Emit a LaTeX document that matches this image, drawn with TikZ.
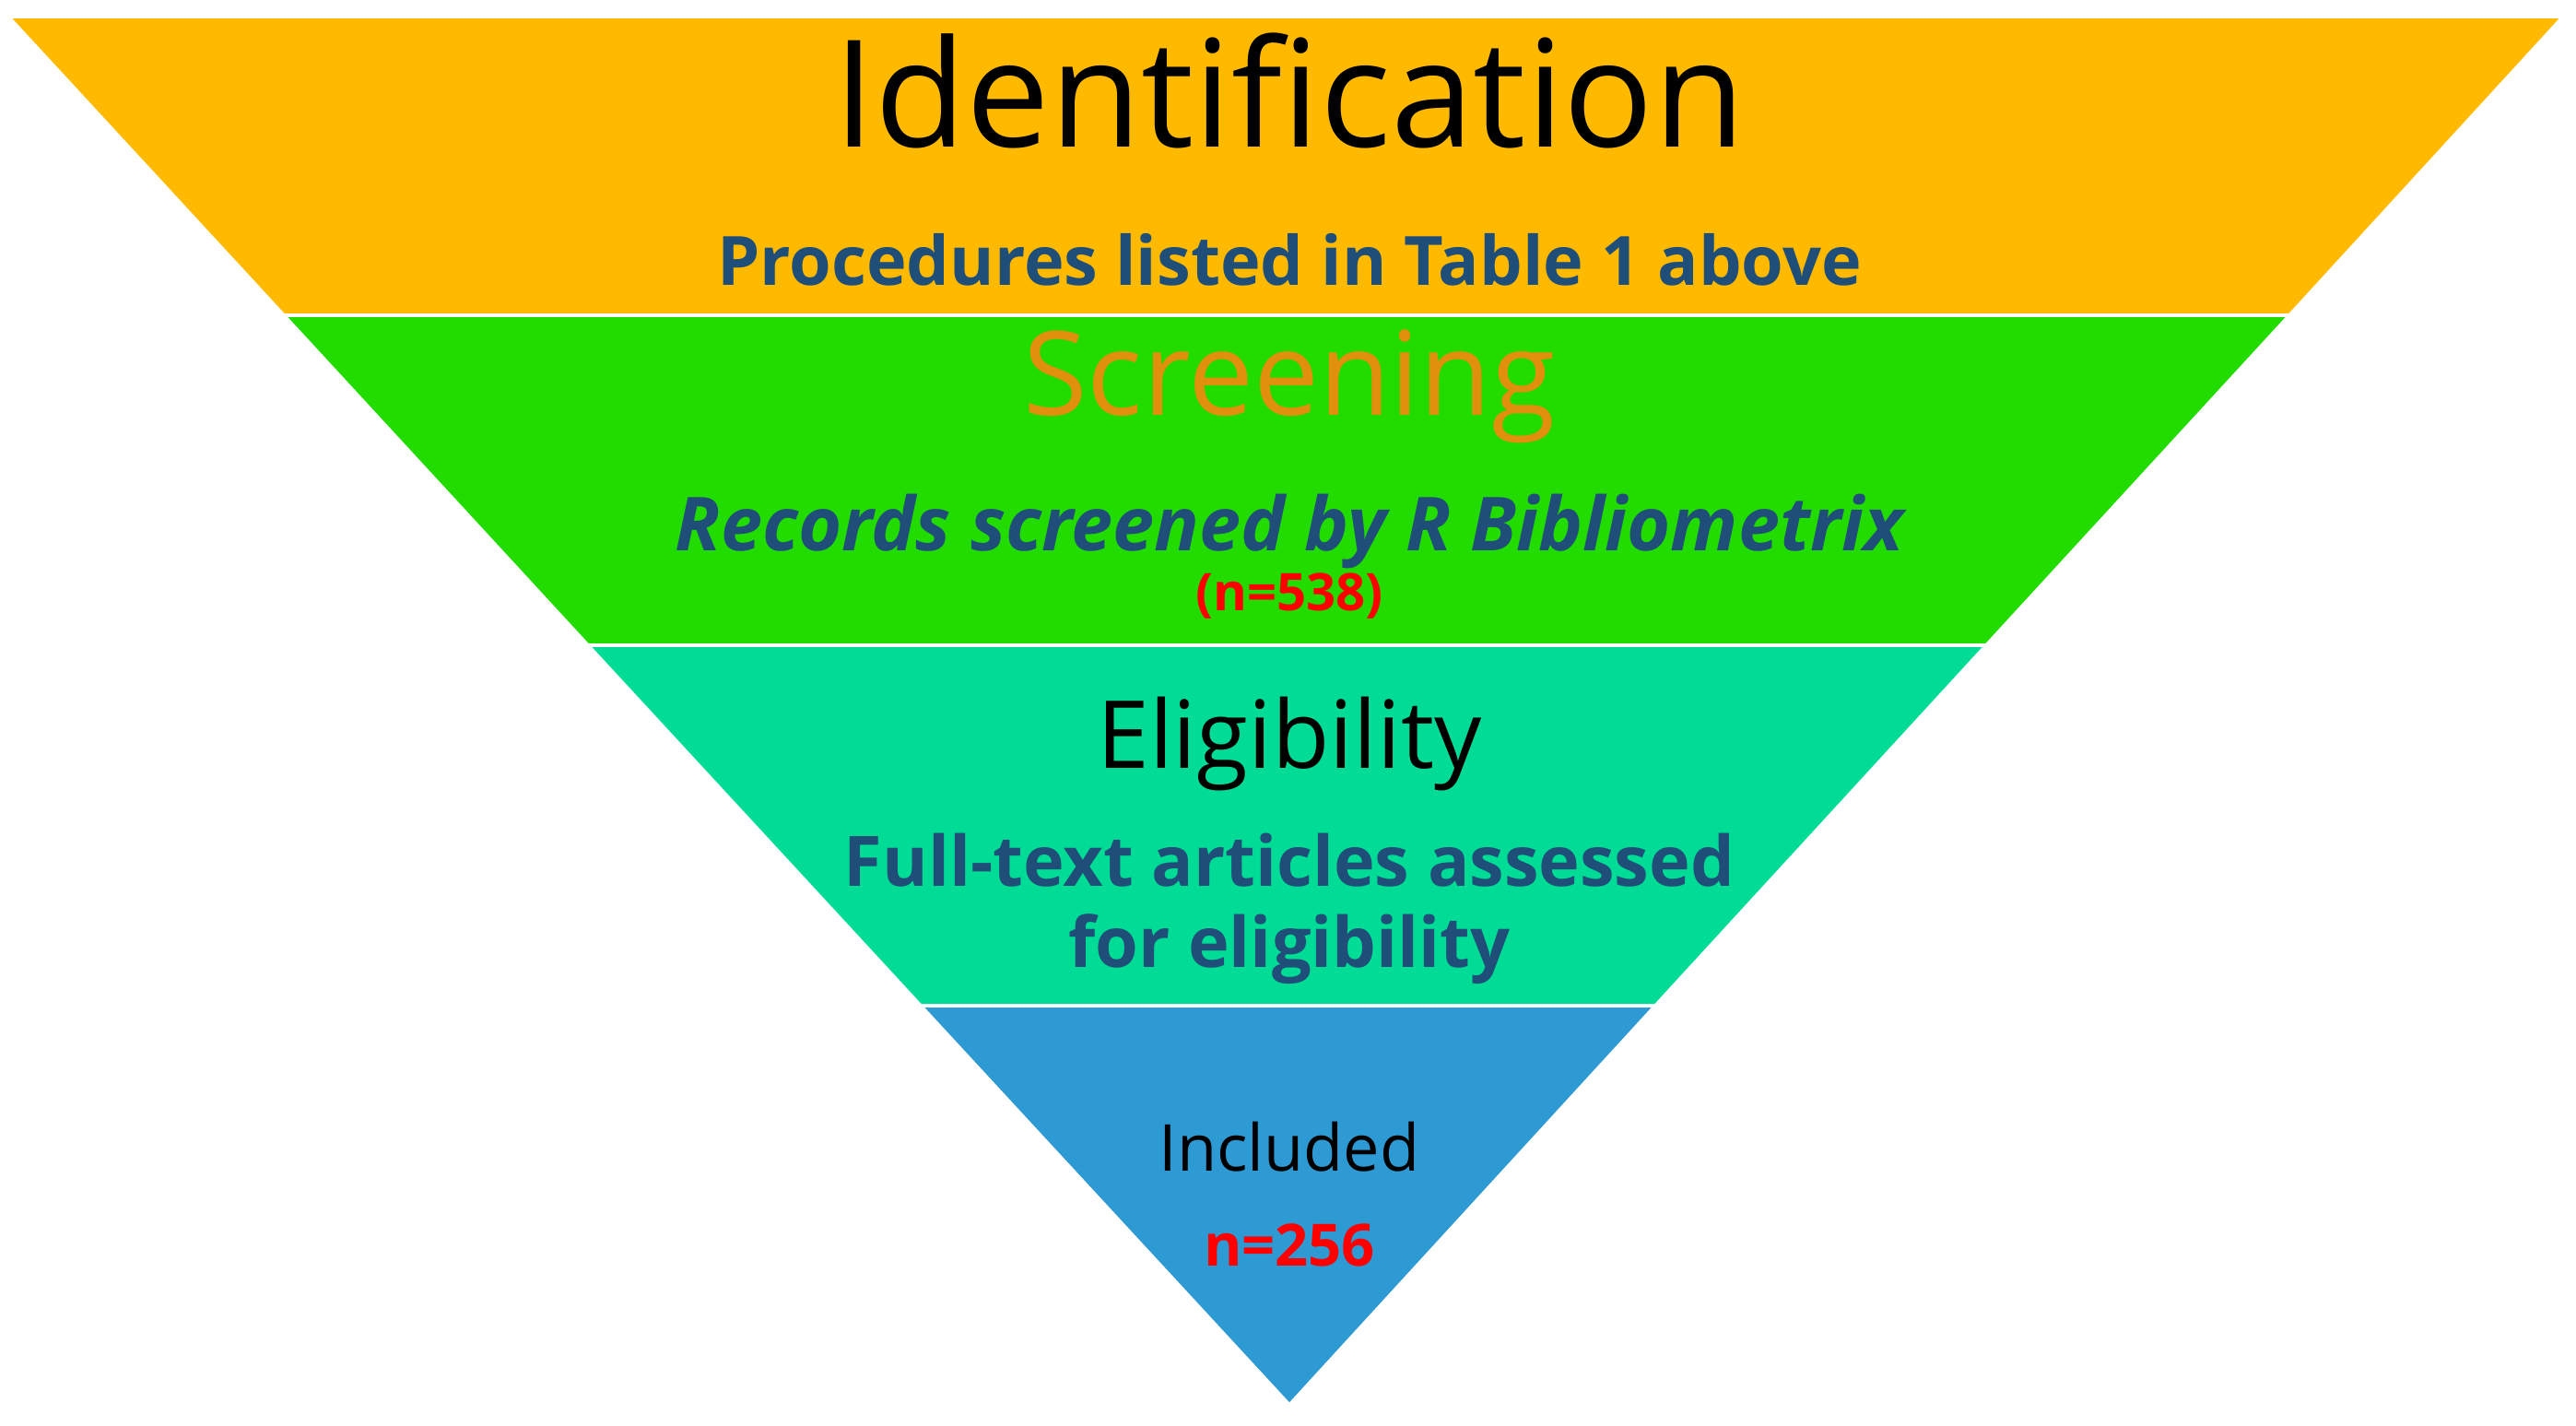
\documentclass[tikz,border=0pt]{standalone}
\usepackage{fontspec}
\setmainfont{Open Sans}
\begin{document}
\begin{tikzpicture}
\definecolor{cOr}{HTML}{FFBA00}
\definecolor{cGr}{HTML}{22DC00}
\definecolor{cTe}{HTML}{00DC96}
\definecolor{cBl}{HTML}{2E9AD4}
\definecolor{cTx}{HTML}{1F4E79}
\definecolor{cSc}{HTML}{E0900A}
\tikzset{band/.style={draw=white,line width=1pt},
 lab/.style={font=\bfseries\fontsize{21}{23}\selectfont,text=cTx,align=center},
 red/.style={font=\bfseries,text=red}}
\useasboundingbox (0,0) rectangle (27.95,15.46);
\fill[white] (0,0) rectangle (27.95,15.46);
\coordinate (TL) at (0.09,15.28); \coordinate (TR) at (27.81,15.28);
\coordinate (L1) at (3.08,12.04); \coordinate (R1) at (24.84,12.04);
\coordinate (L2) at (6.38,8.46); \coordinate (R2) at (21.55,8.46);
\coordinate (L3) at (9.99,4.55); \coordinate (R3) at (17.96,4.55);
\coordinate (A) at (13.99,0.22);
\filldraw[band,fill=cOr] (TL) -- (TR) -- (R1) -- (L1) -- cycle;
\filldraw[band,fill=cGr] (L1) -- (R1) -- (R2) -- (L2) -- cycle;
\filldraw[band,fill=cTe] (L2) -- (R2) -- (R3) -- (L3) -- cycle;
\filldraw[band,fill=cBl] (L3) -- (R3) -- (A) -- cycle;
\node (t1) at (13.99,14.48) {\fontsize{46}{50}\selectfont Identification};
\node[lab] (s1) at (13.99,12.64) {Procedures listed in Table 1 above};
\node[text=cSc] (t2) at (13.99,11.27) {\fontsize{36}{40}\selectfont Screening};
\node[lab,font=\bfseries\itshape\fontsize{23}{25}\selectfont] (s2) at (13.99,9.70) {Records screened by R Bibliometrix};
\node[red,font=\bfseries\fontsize{16}{18}\selectfont] (n1) at (13.99,8.99) {(n=538)};
\node (t3) at (13.99,7.39) {\fontsize{29}{32}\selectfont Eligibility};
\node[lab,font=\bfseries\fontsize{21.5}{25}\selectfont] (s3) at (13.99,5.60) {Full-text articles assessed\\for eligibility};
\node (t4) at (13.99,3.02) {\fontsize{20}{22}\selectfont Included};
\node[red,font=\bfseries\fontsize{18}{20}\selectfont] (n2) at (13.99,1.95) {n=256};
\end{tikzpicture}
\end{document}
